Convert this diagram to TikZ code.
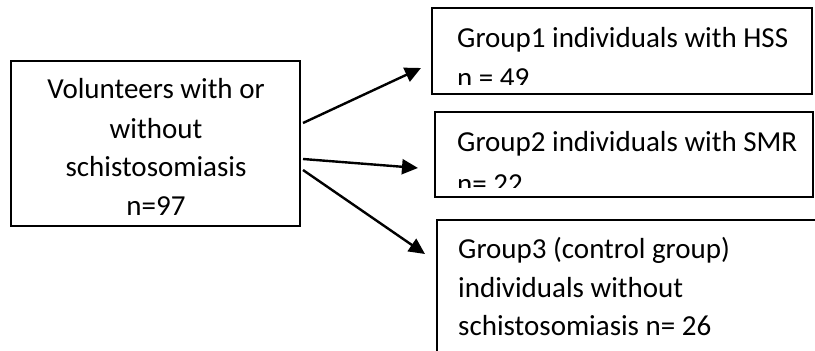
\documentclass[tikz,border=0pt]{standalone}
\usepackage{fontspec}
\setmainfont{Carlito}
\usetikzlibrary{arrows.meta}
\begin{document}
\begin{tikzpicture}[x=1pt,y=-1pt,
  box/.style={draw=black,line width=2.4pt,rectangle,anchor=north west,inner sep=0pt,outer sep=0pt},
  txt/.style={anchor=base west,inner sep=0pt,font=\fontsize{29}{36}\selectfont},
  ctxt/.style={anchor=base,inner sep=0pt,font=\fontsize{29}{36}\selectfont},
  arr/.style={line width=2.4pt,-{Triangle[length=16pt,width=15pt]}}]
\clip (0,0) rectangle (815,351);
\fill[white] (0,0) rectangle (815,351);
% left box
\node[box,minimum width=289pt,minimum height=165pt] (L) at (11,61) {};
\node[ctxt] (L1) at (156,98) {Volunteers with or};
\node[ctxt] (L2) at (156,138) {without};
\node[ctxt] (L3) at (156,176) {schistosomiasis};
\node[ctxt] (L4) at (156,215) {n=97};
% group boxes
\node[box,minimum width=380pt,minimum height=86pt] (G1) at (432,8) {};
\node[box,minimum width=378pt,minimum height=85pt] (G2) at (435,112) {};
\node[box,minimum width=390pt,minimum height=150pt] (G3) at (437,220) {};
% texts, clipped inside boxes
\begin{scope}
\clip (440,10) rectangle (810,84);
\node[txt] (G1a) at (457,47) {Group1 individuals with HSS};
\node[txt] (G1b) at (457,87) {n = 49};
\end{scope}
\begin{scope}
\clip (440,114) rectangle (810,187);
\node[txt] (G2a) at (457,151) {Group2 individuals with SMR};
\node[txt] (G2b) at (457,193) {n= 22};
\end{scope}
\node[txt] (G3a) at (458,258) {Group3 (control group)};
\node[txt] (G3b) at (458,297) {individuals without};
\node[txt] (G3c) at (458,335) {schistosomiasis n= 26};
% arrows
\coordinate (s1) at ([xshift=3pt]L.east |- 0,123);
\coordinate (s2) at ([xshift=3pt]L.east |- 0,159);
\coordinate (s3) at ([xshift=3pt]L.east |- 0,170);
\coordinate (t1) at (421,68);
\coordinate (t2) at (418,168);
\coordinate (t3) at (425,254);
\draw[arr] (s1) -- (t1);
\draw[arr] (s2) -- (t2);
\draw[arr] (s3) -- (t3);
\end{tikzpicture}
\end{document}
